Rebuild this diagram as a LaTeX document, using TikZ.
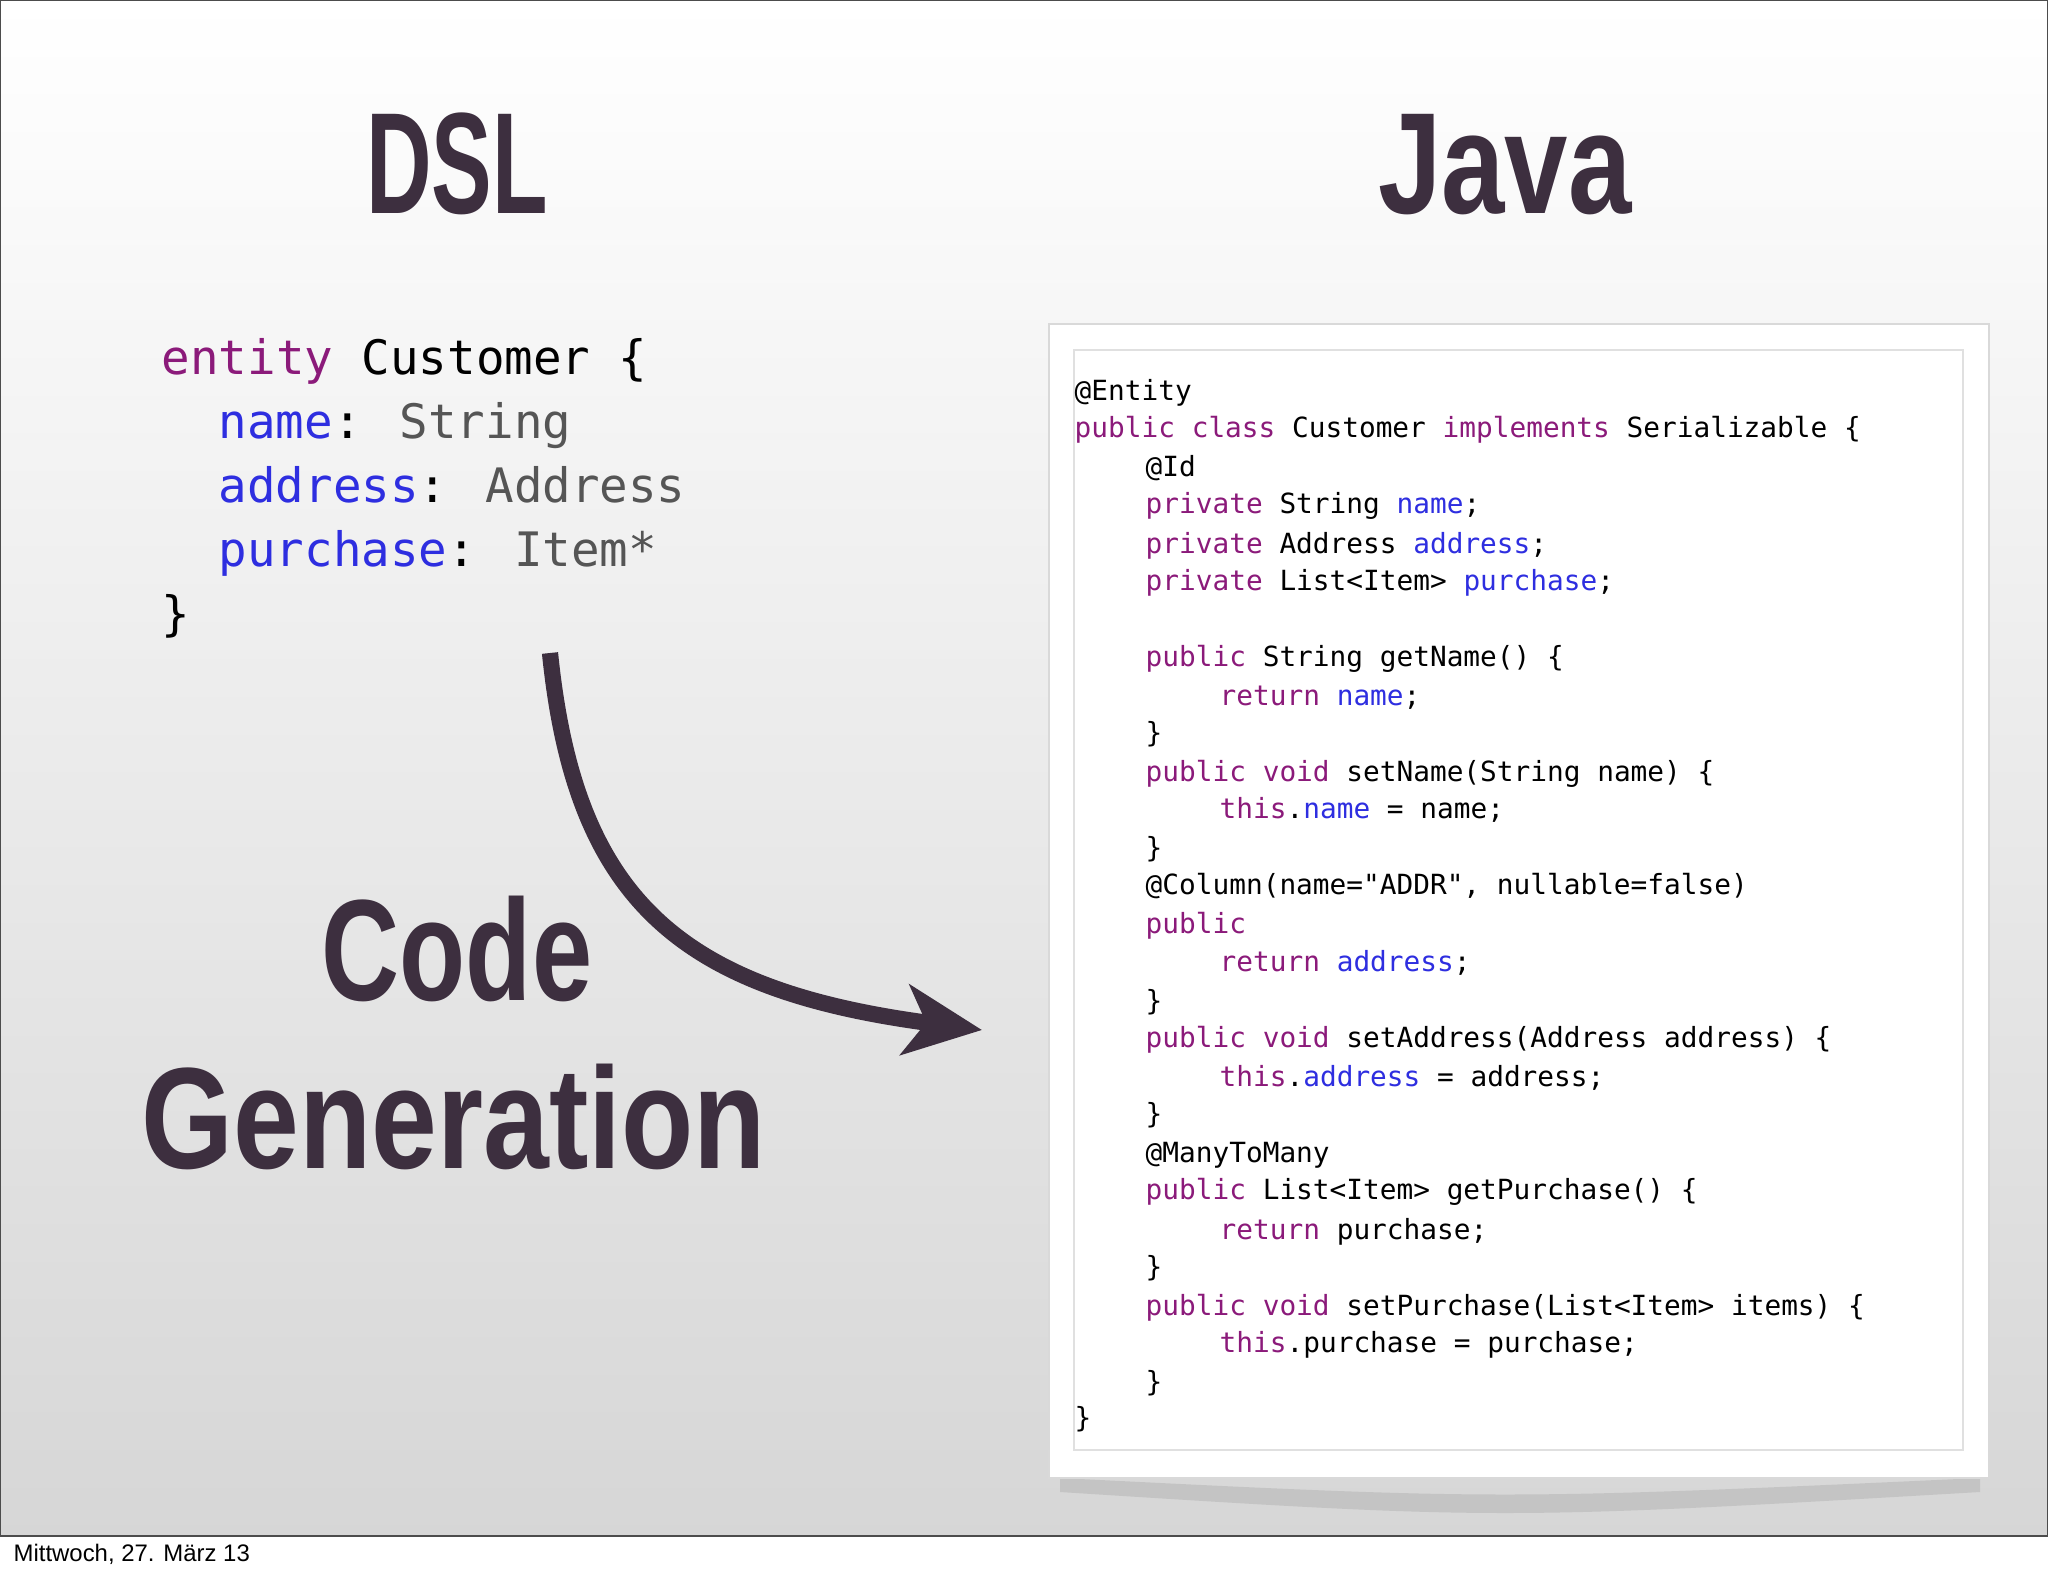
\documentclass[tikz,border=0pt]{standalone}
\usepackage{fontspec}
\setmainfont{Liberation Sans}
\newfontfamily\mono{DejaVu Sans Mono}
\usetikzlibrary{arrows.meta}
\definecolor{ttl}{HTML}{3D2F3F}
\definecolor{kw}{HTML}{8B1A7A}
\definecolor{fld}{HTML}{2E2EE0}
\definecolor{typ}{HTML}{555555}
\begin{document}
\begin{tikzpicture}[x=0.01cm,y=-0.01cm,
  title/.style={anchor=base,text=ttl,font=\fontsize{41}{41}\selectfont\bfseries,inner sep=0},
  dsl/.style={anchor=base west,inner sep=0,font=\mono\fontsize{13.5}{13.5}\selectfont},
  jv/.style={anchor=base west,inner sep=0,font=\mono\fontsize{7.9}{7.9}\selectfont}]
\useasboundingbox (0,0) rectangle (2048,1576);
\shade[top color=white,bottom color=black!16] (0,0) rectangle (2048,1536);
\draw[black!70,line width=0.8pt] (0,1536) -- (2048,1536);
\draw[black!70,line width=0.8pt] (0,0) rectangle (2048,1536);
\node[anchor=base west,inner sep=0,font=\fontsize{6.8}{6.8}\selectfont] (foot) at (13,1561) {Mittwoch, 27. März 13};
% titles
\node[title,xscale=0.63] (dsl) at (457,214) {DSL};
\node[title,xscale=0.79] (java) at (1505,214) {Java};
\node[title,xscale=0.75] (code) at (457,1000) {Code};
\node[title,xscale=0.82] (gen) at (454,1168) {Generation};
% DSL code
\node[dsl] (d1) at (161,374) {\textcolor{kw}{entity} Customer \{};
\node[dsl] (d2) at (218,438) {\textcolor{fld}{name}: \textcolor{typ}{String}};
\node[dsl] (d3) at (218,502) {\textcolor{fld}{address}: \textcolor{typ}{Address}};
\node[dsl] (d4) at (218,566) {\textcolor{fld}{purchase}: \textcolor{typ}{Item*}};
\node[dsl] (d5) at (161,630) {\}};
% arrow
\coordinate (as) at (550,653);
\coordinate (ae) at (982,1030);
\draw[ttl,line width=4.6pt,-{Stealth[length=22pt,width=20pt,inset=6pt]}] (as) .. controls (575,900) and (680,990) .. (ae);
% java box
\fill[black!30,opacity=0.5] (1060,1478) .. controls (1500,1500) .. (1980,1478) -- (1980,1492) .. controls (1500,1520) .. (1060,1492) -- cycle;
\draw[black!15,fill=white] (1049,324) rectangle (1989,1478);
\draw[black!12] (1074,350) rectangle (1963,1450);
\newcommand\jl[3]{\node[jv] at (#1,#2) {#3};}
\def\a{1074}\def\b{1145}\def\c{1219}
\jl{\a}{400}{@Entity}
\jl{\a}{437}{\textcolor{kw}{public class} Customer \textcolor{kw}{implements} Serializable \{}
\jl{\b}{476}{@Id}
\jl{\b}{513}{\textcolor{kw}{private} String \textcolor{fld}{name};}
\jl{\b}{553}{\textcolor{kw}{private} Address \textcolor{fld}{address};}
\jl{\b}{590}{\textcolor{kw}{private} List<Item> \textcolor{fld}{purchase};}
\jl{\b}{666}{\textcolor{kw}{public} String getName() \{}
\jl{\c}{705}{\textcolor{kw}{return} \textcolor{fld}{name};}
\jl{\b}{742}{\}}
\jl{\b}{781}{\textcolor{kw}{public void} setName(String name) \{}
\jl{\c}{818}{\textcolor{kw}{this}.\textcolor{fld}{name} = name;}
\jl{\b}{857}{\}}
\jl{\b}{894}{@Column(name="ADDR", nullable=false)}
\jl{\b}{933}{\textcolor{kw}{public}}
\jl{\c}{971}{\textcolor{kw}{return} \textcolor{fld}{address};}
\jl{\b}{1010}{\}}
\jl{\b}{1047}{\textcolor{kw}{public void} setAddress(Address address) \{}
\jl{\c}{1086}{\textcolor{kw}{this}.\textcolor{fld}{address} = address;}
\jl{\b}{1123}{\}}
\jl{\b}{1162}{@ManyToMany}
\jl{\b}{1199}{\textcolor{kw}{public} List<Item> getPurchase() \{}
\jl{\c}{1239}{\textcolor{kw}{return} purchase;}
\jl{\b}{1276}{\}}
\jl{\b}{1315}{\textcolor{kw}{public void} setPurchase(List<Item> items) \{}
\jl{\c}{1352}{\textcolor{kw}{this}.purchase = purchase;}
\jl{\b}{1391}{\}}
\jl{\a}{1427}{\}}
\end{tikzpicture}
\end{document}
